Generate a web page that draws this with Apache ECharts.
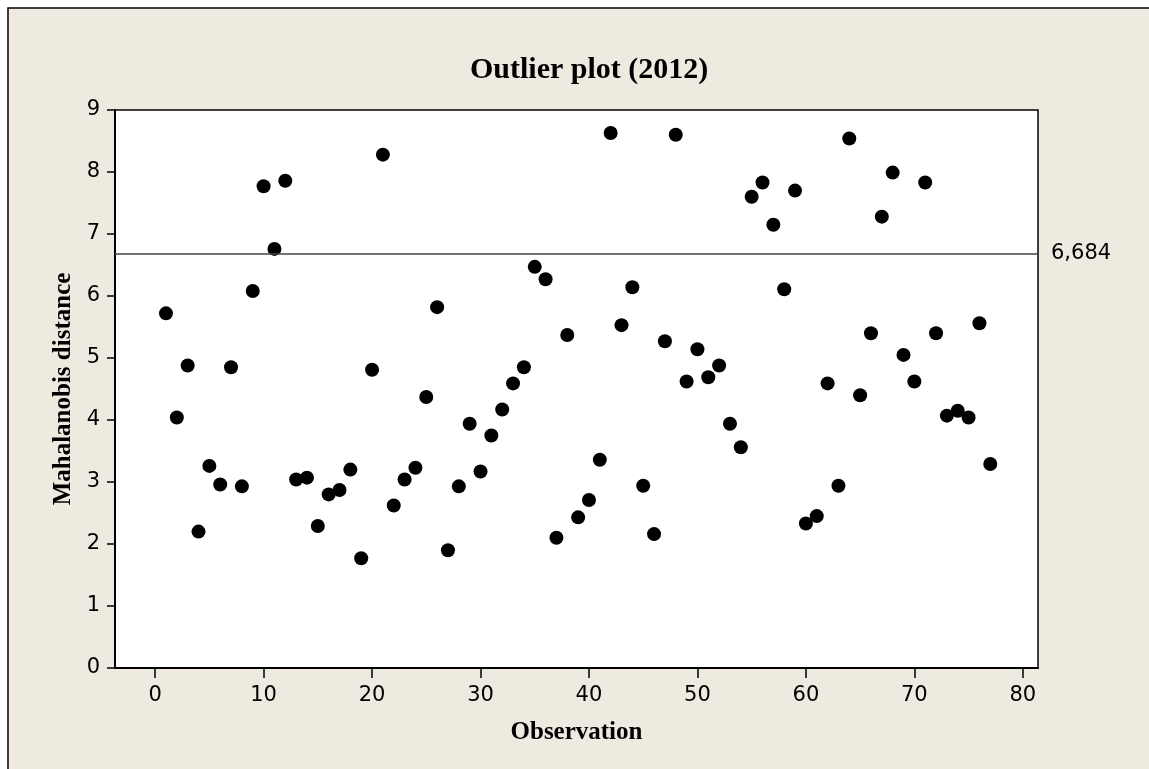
<!DOCTYPE html>
<html>
<head>
<meta charset="utf-8">
<script src="https://cdn.jsdelivr.net/npm/echarts@6/dist/echarts.min.js"></script>
<style>
  html, body { margin: 0; padding: 0; background: #fff; }
  #chart { width: 1149px; height: 769px; }
</style>
</head>
<body>
<div id="chart"></div>
<script>
// observation numbers and their Mahalanobis distances
const observations = [
  1, 2, 3, 4, 5, 6, 7, 8, 9, 10, 11, 12, 13, 14, 15, 16, 17, 18, 19, 20,
  21, 22, 23, 24, 25, 26, 27, 28, 29, 30, 31, 32, 33, 34, 35, 36, 37, 38, 39, 40,
  41, 42, 43, 44, 45, 46, 47, 48, 49, 50, 51, 52, 53, 54, 55, 56, 57, 58, 59, 60,
  61, 62, 63, 64, 65, 66, 67, 68, 69, 70, 71, 72, 73, 74, 75, 76, 77
];
const distances = [
  5.72, 4.04, 4.88, 2.20, 3.26, 2.96, 4.85, 2.93, 6.08, 7.77,
  6.76, 7.86, 3.04, 3.07, 2.29, 2.80, 2.87, 3.20, 1.77, 4.81,
  8.28, 2.62, 3.04, 3.23, 4.37, 5.82, 1.90, 2.93, 3.94, 3.17,
  3.75, 4.17, 4.59, 4.85, 6.47, 6.27, 2.10, 5.37, 2.43, 2.71,
  3.36, 8.63, 5.53, 6.14, 2.94, 2.16, 5.27, 8.60, 4.62, 5.14,
  4.69, 4.88, 3.94, 3.56, 7.60, 7.83, 7.15, 6.11, 7.70, 2.33,
  2.45, 4.59, 2.94, 8.54, 4.40, 5.40, 7.28, 7.99, 5.05, 4.62,
  7.83, 5.40, 4.07, 4.15, 4.04, 5.56, 3.29
];
const xTicks = [0, 10, 20, 30, 40, 50, 60, 70, 80];
const cutoff = 6.684;
const cutoffLabel = '6,684';

const points = observations.map((o, i) => [o, distances[i]]);

const chart = echarts.init(document.getElementById('chart'));
chart.setOption({
  backgroundColor: '#fff',
  animation: false,
  graphic: [{
    type: 'rect',
    z: -10,
    shape: { x: 8, y: 8, width: 1160, height: 780 },
    style: { fill: '#eeeae0', stroke: '#000', lineWidth: 1.5 }
  }],
  title: {
    text: 'Outlier plot (2012)',
    left: 465,
    top: 50,
    textStyle: { fontFamily: 'Liberation Serif', fontWeight: 'bold', fontSize: 30, color: '#000' }
  },
  grid: {
    left: 115, right: 111, top: 110, bottom: 101,
    show: true,
    backgroundColor: '#fff',
    borderColor: '#000',
    borderWidth: 1.5
  },
  xAxis: {
    type: 'value',
    min: -3.7,
    max: 81.4,
    name: 'Observation',
    nameLocation: 'middle',
    nameGap: 52,
    nameTextStyle: { fontFamily: 'Liberation Serif', fontWeight: 'bold', fontSize: 25, color: '#000' },
    splitLine: { show: false },
    axisLine: { show: true, onZero: false, lineStyle: { color: '#000', width: 2 } },
    axisTick: { show: true, length: 10, customValues: xTicks, lineStyle: { color: '#000', width: 1.5 } },
    axisLabel: {
      customValues: xTicks,
      margin: 17,
      fontFamily: 'DejaVu Sans', fontSize: 21, color: '#000'
    }
  },
  yAxis: {
    type: 'value',
    min: 0,
    max: 9,
    interval: 1,
    name: 'Mahalanobis distance',
    nameLocation: 'middle',
    nameGap: 26,
    nameTextStyle: { fontFamily: 'Liberation Serif', fontWeight: 'bold', fontSize: 25, color: '#000' },
    splitLine: { show: false },
    axisLine: { show: true, onZero: false, lineStyle: { color: '#000', width: 2 } },
    axisTick: { show: true, length: 8, lineStyle: { color: '#000', width: 1.5 } },
    axisLabel: { margin: 15, fontFamily: 'DejaVu Sans', fontSize: 21, color: '#000' }
  },
  series: [{
    type: 'scatter',
    data: points,
    symbol: 'circle',
    symbolSize: 14,
    itemStyle: { color: '#000', opacity: 1 },
    markLine: {
      silent: true,
      symbol: 'none',
      lineStyle: { color: '#444', width: 1.5, type: 'solid' },
      label: {
        position: 'end',
        distance: 13,
        formatter: cutoffLabel,
        fontFamily: 'DejaVu Sans', fontSize: 21, color: '#000'
      },
      data: [{ yAxis: cutoff }]
    }
  }]
});
</script>
</body>
</html>
